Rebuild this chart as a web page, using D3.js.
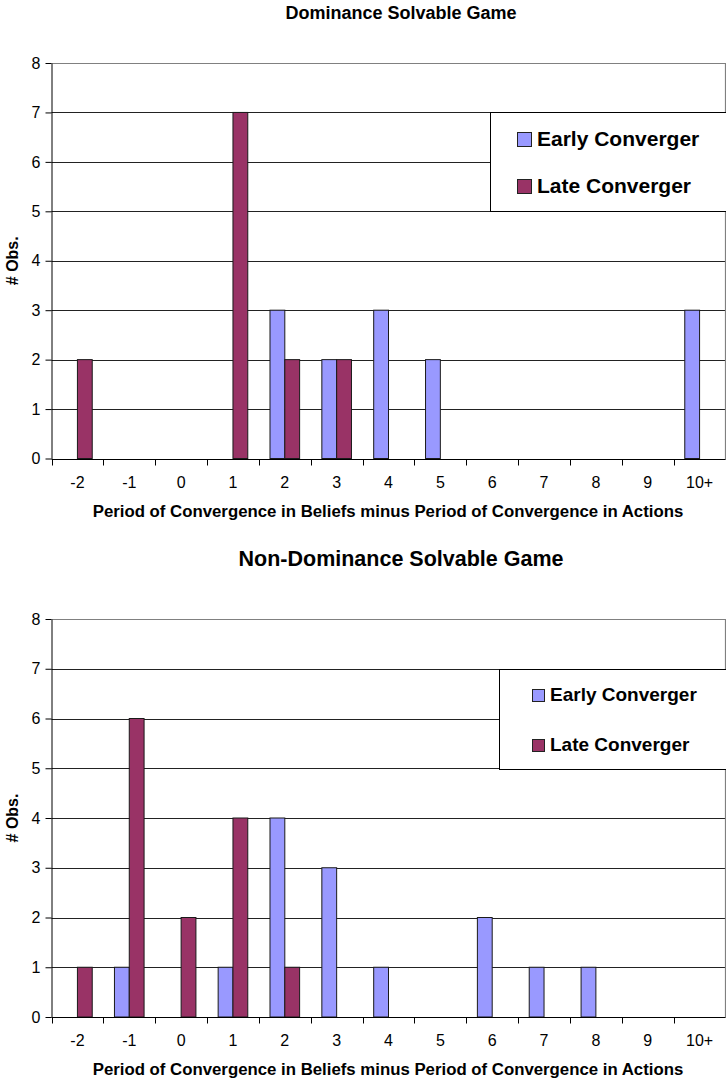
<!DOCTYPE html>
<html>
<head>
<meta charset="utf-8">
<script src="https://cdn.jsdelivr.net/npm/d3@7"></script>
<style>
  html, body { margin: 0; padding: 0; background: #fff; }
  svg { display: block; font-family: "Liberation Sans", Arial, sans-serif; }
</style>
</head>
<body>
<svg id="chart" width="726" height="1084"></svg>
<script>
// Differences (beliefs minus actions), one bucket per column
const categories = ["-2", "-1", "0", "1", "2", "3", "4", "5", "6", "7", "8", "9", "10+"];
const seriesNames = ["Early Converger", "Late Converger"];
const seriesColors = ["#9999FF", "#993366"];
const yTicks = [0, 1, 2, 3, 4, 5, 6, 7, 8];

// Dominance solvable game: number of observations per bucket
const domEarly = [0, 0, 0, 0, 3, 2, 3, 2, 0, 0, 0, 0, 3];
const domLate  = [2, 0, 0, 7, 2, 2, 0, 0, 0, 0, 0, 0, 0];

// Non-dominance solvable game
const nonEarly = [0, 1, 0, 1, 4, 3, 1, 0, 2, 1, 1, 0, 0];
const nonLate  = [1, 6, 2, 4, 1, 0, 0, 0, 0, 0, 0, 0, 0];

const xTitle = "Period of Convergence in Beliefs minus Period of Convergence in Actions";
const yTitle = "# Obs.";

const svg = d3.select("#chart");

function drawPanel(cfg) {
  const g = svg.append("g");
  const left = 51.5, right = 725.5;

  const x = d3.scaleBand().domain(categories).range([left, right]).padding(0);
  const bw = x.bandwidth() / 3.5; // gap width 150%
  const xs = d3.scaleBand().domain(seriesNames)
    .range([x.bandwidth() / 2 - bw, x.bandwidth() / 2 + bw]).padding(0);
  const y = d3.scaleLinear().domain([0, 8]).range([cfg.bottom, cfg.top]);

  // Title
  g.append("text")
    .attr("x", 401).attr("y", cfg.titleY)
    .attr("text-anchor", "middle")
    .attr("font-weight", "bold")
    .attr("font-size", cfg.titleSize)
    .text(cfg.title);

  // Gridlines
  g.append("g").selectAll("line")
    .data(yTicks.filter(t => t > 0 && t < 8))
    .join("line")
    .attr("x1", left).attr("x2", right)
    .attr("y1", d => Math.round(y(d)) + 0.5).attr("y2", d => Math.round(y(d)) + 0.5)
    .attr("stroke", "#222").attr("stroke-width", 1);

  // Plot frame (top and right)
  g.append("path")
    .attr("d", `M${left},${Math.round(y(8)) + 0.5}H${right}V${Math.round(y(0)) + 0.5}`)
    .attr("fill", "none").attr("stroke", "#808080").attr("stroke-width", 1.2);

  // Legend
  const lg = g.append("g");
  lg.append("rect")
    .attr("x", cfg.legend.x + 0.5).attr("y", cfg.legend.y + 0.5)
    .attr("width", 740 - cfg.legend.x).attr("height", cfg.legend.h)
    .attr("fill", "#fff").attr("stroke", "#000").attr("stroke-width", 1);
  seriesNames.forEach((name, i) => {
    const sy = cfg.legend.y + cfg.legend.first + i * cfg.legend.step;
    lg.append("rect")
      .attr("x", cfg.legend.sx + 0.5).attr("y", sy + 0.5)
      .attr("width", cfg.legend.sq).attr("height", cfg.legend.sq)
      .attr("fill", seriesColors[i]).attr("stroke", "#222").attr("stroke-width", 1);
    lg.append("text")
      .attr("x", cfg.legend.sx + cfg.legend.sq + 6)
      .attr("y", sy + cfg.legend.sq)
      .attr("font-weight", "bold")
      .attr("font-size", cfg.legend.fs)
      .text(name);
  });

  // Bars
  const rows = categories.map((c, i) => ({ c, vals: [cfg.early[i], cfg.late[i]] }));
  const bars = [];
  rows.forEach(r => r.vals.forEach((v, k) => {
    if (v > 0) bars.push({ c: r.c, s: seriesNames[k], k, v });
  }));
  g.append("g").selectAll("rect")
    .data(bars)
    .join("rect")
    .attr("x", d => x(d.c) + xs(d.s))
    .attr("width", xs.bandwidth())
    .attr("y", d => y(d.v))
    .attr("height", d => y(0) - y(d.v))
    .attr("fill", d => seriesColors[d.k])
    .attr("stroke", "#1a1a1a").attr("stroke-width", 1);

  // Y axis
  const yAxis = g.append("g")
    .attr("transform", `translate(${left},0)`)
    .call(d3.axisLeft(y).tickValues(yTicks).tickFormat(d3.format("d"))
      .tickSize(6).tickSizeOuter(0).tickPadding(5));
  yAxis.select(".domain").attr("stroke", "#000");
  yAxis.selectAll(".tick line").attr("stroke", "#000");
  yAxis.selectAll(".tick text")
    .attr("font-size", 16).attr("font-family", "Liberation Sans, Arial, sans-serif")
    .attr("fill", "#000");

  // X axis line and boundary ticks
  const y0 = Math.round(y(0)) + 0.5;
  g.append("line").attr("x1", left).attr("x2", right)
    .attr("y1", y0).attr("y2", y0).attr("stroke", "#000");
  const bounds = categories.map(c => x(c)).concat([x(categories[categories.length - 1]) + x.bandwidth()]);
  g.append("g").selectAll("line")
    .data(bounds)
    .join("line")
    .attr("x1", d => Math.round(d) + 0.5).attr("x2", d => Math.round(d) + 0.5)
    .attr("y1", y0).attr("y2", y0 + 6)
    .attr("stroke", "#000");
  const xAxis = g.append("g")
    .attr("transform", `translate(0,${y(0)})`)
    .call(d3.axisBottom(x).tickSize(0).tickPadding(18));
  xAxis.select(".domain").remove();
  xAxis.selectAll(".tick text")
    .attr("font-size", 16).attr("font-family", "Liberation Sans, Arial, sans-serif")
    .attr("fill", "#000");

  // Axis titles
  g.append("text")
    .attr("x", 388).attr("y", y(0) + 58)
    .attr("text-anchor", "middle")
    .attr("font-weight", "bold").attr("font-size", 16.8)
    .text(xTitle);
  g.append("text")
    .attr("transform", `translate(18,${(y(0) + y(8)) / 2}) rotate(-90)`)
    .attr("text-anchor", "middle")
    .attr("font-weight", "bold").attr("font-size", 16)
    .text(yTitle);
}

drawPanel({
  title: "Dominance Solvable Game", titleY: 19, titleSize: 18,
  top: 63, bottom: 458.5,
  early: domEarly, late: domLate,
  legend: { x: 490, y: 112, h: 99, sx: 517, sq: 14, first: 20, step: 47, fs: 21 }
});

drawPanel({
  title: "Non-Dominance Solvable Game", titleY: 566, titleSize: 21.5,
  top: 619, bottom: 1017,
  early: nonEarly, late: nonLate,
  legend: { x: 499, y: 669, h: 100, sx: 532, sq: 12, first: 20, step: 50, fs: 19 }
});
</script>
</body>
</html>
